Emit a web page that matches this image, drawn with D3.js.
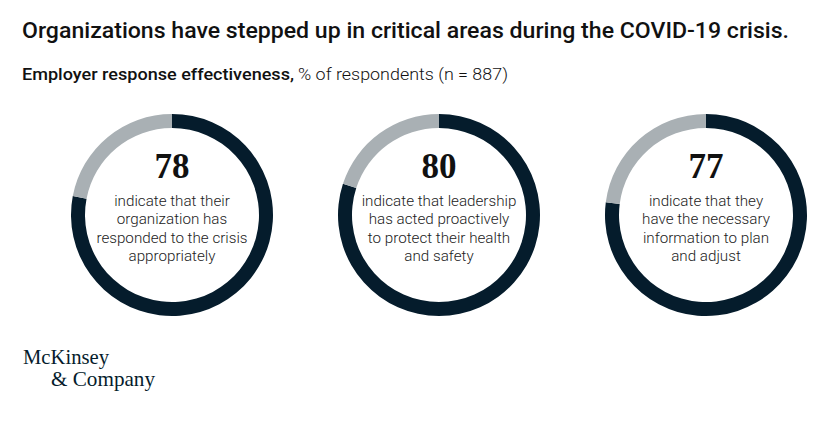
<!DOCTYPE html>
<html>
<head>
<meta charset="utf-8">
<script src="https://cdn.jsdelivr.net/npm/d3@7"></script>
<style>
  body { margin: 0; background: #fff; }
  svg { display: block; }
</style>
</head>
<body>
<svg width="828" height="422"></svg>
<script>
var width = 828;
var height = 422;

// data
var values = [78, 80, 77];
var labels = [
  ["indicate that their", "organization has", "responded to the crisis", "appropriately"],
  ["indicate that leadership", "has acted proactively", "to protect their health", "and safety"],
  ["indicate that they", "have the necessary", "information to plan", "and adjust"]
];

var dark = "#051c2c";
var grey = "#a9b0b4";

var svg = d3.select("svg");

// title + subtitle
svg.append("text")
    .attr("x", 22).attr("y", 38)
    .attr("font-family", "Roboto, sans-serif")
    .attr("font-weight", 500)
    .attr("font-size", 21.5)
    .attr("fill", "#111")
    .attr("textLength", 767)
    .attr("lengthAdjust", "spacingAndGlyphs")
    .text("Organizations have stepped up in critical areas during the COVID-19 crisis.");

var sub = svg.append("text")
    .attr("y", 80)
    .attr("font-family", "Roboto, sans-serif")
    .attr("font-size", 16.5)
    .attr("fill", "#111");
sub.append("tspan").attr("x", 22).attr("font-weight", 500)
    .attr("textLength", 272).attr("lengthAdjust", "spacingAndGlyphs")
    .text("Employer response effectiveness,");
sub.append("tspan").attr("x", 298).attr("font-weight", 300)
    .attr("textLength", 210).attr("lengthAdjust", "spacingAndGlyphs")
    .text("% of respondents (n = 887)");

var x = d3.scalePoint().domain(d3.range(values.length)).range([172, 706]);
var cy = 215;
var rOuter = 101, rInner = 87;

var pie = d3.pie().sort(null).value(d => d);
var arc = d3.arc().innerRadius(rInner).outerRadius(rOuter);

var donut = svg.selectAll("g.donut")
    .data(values)
    .join("g")
    .attr("class", "donut")
    .attr("transform", (d, i) => "translate(" + x(i) + "," + cy + ")");

donut.selectAll("path")
    .data(d => pie([d, 100 - d]))
    .join("path")
    .attr("d", arc)
    .attr("fill", (d, i) => i === 0 ? dark : grey);

donut.append("text")
    .attr("y", -37)
    .attr("text-anchor", "middle")
    .attr("font-family", "'Liberation Serif', serif")
    .attr("font-weight", "bold")
    .attr("font-size", 35)
    .attr("fill", "#111")
    .text(d => d);

donut.each(function(d, i) {
  var g = d3.select(this);
  labels[i].forEach(function(line, j) {
    g.append("text")
        .attr("y", -9 + j * 18.3)
        .attr("text-anchor", "middle")
        .attr("font-family", "Roboto, sans-serif")
        .attr("font-weight", 300)
        .attr("font-size", 15.2)
        .attr("fill", "#222")
        .text(line);
  });
});

// logo
svg.append("text")
    .attr("x", 23).attr("y", 364)
    .attr("font-family", "'Liberation Serif', serif")
    .attr("font-size", 21)
    .attr("fill", dark)
    .attr("textLength", 86)
    .attr("lengthAdjust", "spacingAndGlyphs")
    .text("McKinsey");
svg.append("text")
    .attr("x", 51).attr("y", 386)
    .attr("font-family", "'Liberation Serif', serif")
    .attr("font-size", 21)
    .attr("fill", dark)
    .attr("textLength", 104)
    .attr("lengthAdjust", "spacingAndGlyphs")
    .text("& Company");
</script>
</body>
</html>
